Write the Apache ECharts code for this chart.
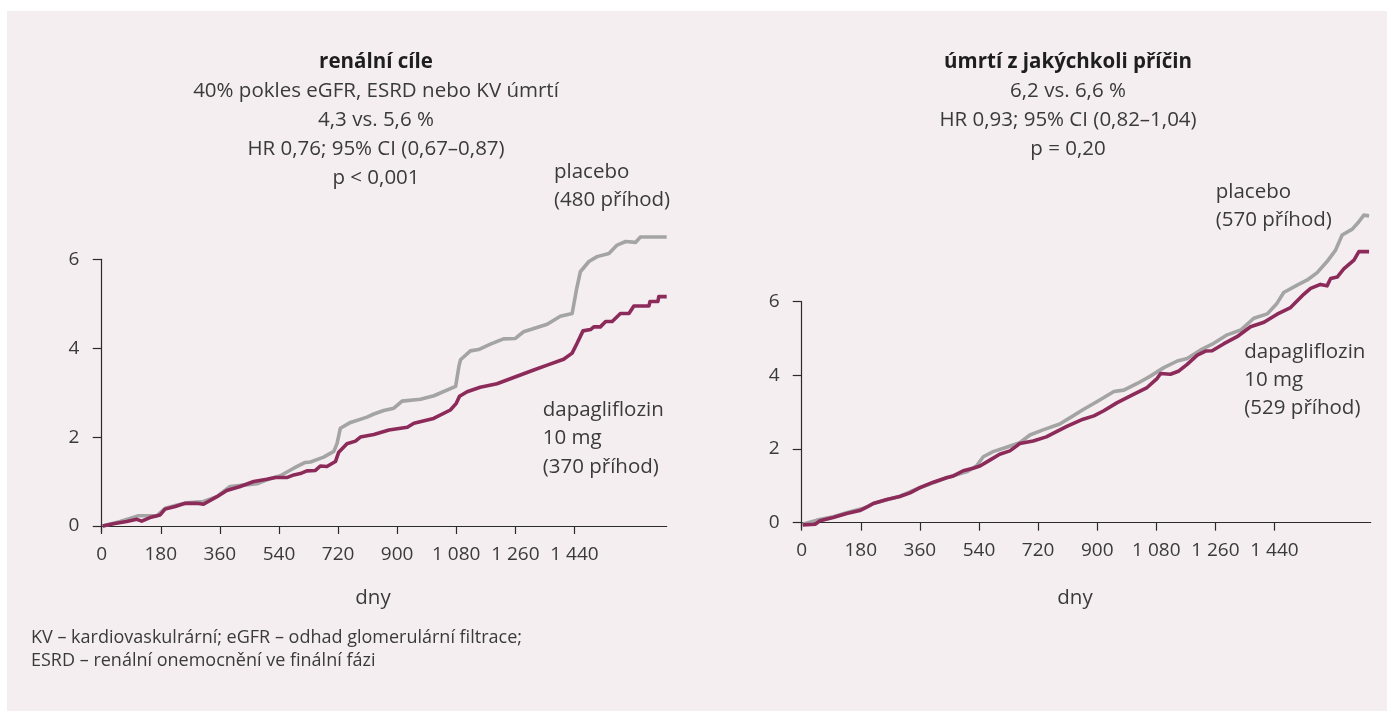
<!DOCTYPE html>
<html><head><meta charset="utf-8">
<script src="https://cdn.jsdelivr.net/npm/echarts@6/dist/echarts.min.js"></script>
<style>html,body{margin:0;padding:0;background:#fff;}#c{width:1387px;height:711px;}</style>
</head><body><div id="c"></div>
<script>
// ---- data ----
const xTicks = [0, 180, 360, 540, 720, 900, 1080, 1260, 1440];
const yTicks = [0, 2, 4, 6];

// renal endpoint (days, cumulative %)
const renalDapa = [[3,0],[36,0.05],[76,0.1],[107,0.15],[122,0.11],[147,0.19],[178,0.25],[193,0.38],[224,0.44],[254,0.51],[290,0.51],[310,0.49],[351,0.66],[381,0.8],[422,0.89],[463,1.0],[503,1.05],[529,1.09],[564,1.09],[585,1.15],[605,1.18],[625,1.24],[651,1.25],[666,1.35],[686,1.34],[712,1.45],[722,1.66],[747,1.85],[773,1.91],[788,2.0],[829,2.06],[875,2.16],[931,2.22],[951,2.31],[1011,2.42],[1062,2.61],[1080,2.76],[1090,2.92],[1113,3.02],[1153,3.12],[1204,3.2],[1265,3.37],[1316,3.51],[1357,3.62],[1407,3.75],[1433,3.89],[1448,4.11],[1466,4.39],[1489,4.42],[1499,4.48],[1519,4.48],[1535,4.6],[1555,4.6],[1580,4.78],[1606,4.78],[1621,4.95],[1667,4.95],[1670,5.05],[1694,5.05],[1697,5.16],[1721,5.16]];
const renalPlacebo = [[3,0],[56,0.1],[86,0.17],[112,0.23],[168,0.23],[193,0.4],[224,0.46],[259,0.52],[310,0.55],[351,0.66],[391,0.89],[432,0.92],[473,0.95],[503,1.04],[544,1.13],[585,1.3],[620,1.43],[636,1.44],[676,1.55],[707,1.68],[717,1.86],[727,2.2],[758,2.33],[808,2.45],[829,2.52],[859,2.6],[890,2.65],[915,2.81],[971,2.85],[1012,2.93],[1078,3.14],[1088,3.59],[1093,3.74],[1123,3.94],[1148,3.97],[1184,4.09],[1224,4.21],[1260,4.22],[1285,4.37],[1357,4.54],[1397,4.72],[1433,4.78],[1446,5.31],[1458,5.72],[1484,5.95],[1509,6.06],[1545,6.13],[1570,6.32],[1596,6.4],[1626,6.38],[1641,6.5],[1721,6.5]];

// all-cause death (days, cumulative %)
const deathDapa = [[3,-0.06],[41,-0.04],[56,0.05],[96,0.14],[137,0.25],[177,0.33],[198,0.42],[218,0.52],[259,0.63],[299,0.71],[330,0.81],[360,0.95],[401,1.1],[441,1.22],[462,1.27],[492,1.41],[522,1.48],[543,1.54],[573,1.7],[603,1.86],[634,1.95],[654,2.08],[664,2.15],[705,2.22],[745,2.33],[776,2.47],[809,2.62],[857,2.81],[890,2.9],[920,3.04],[961,3.26],[1012,3.49],[1052,3.67],[1083,3.92],[1093,4.05],[1123,4.03],[1149,4.12],[1174,4.3],[1205,4.55],[1230,4.66],[1250,4.67],[1286,4.86],[1326,5.05],[1367,5.32],[1408,5.44],[1448,5.66],[1489,5.84],[1529,6.2],[1550,6.36],[1580,6.47],[1600,6.43],[1611,6.63],[1631,6.67],[1651,6.89],[1682,7.13],[1697,7.36],[1728,7.36]];
const deathPlacebo = [[3,-0.04],[46,0.07],[96,0.16],[147,0.3],[188,0.39],[218,0.52],[299,0.72],[360,0.95],[441,1.22],[502,1.38],[532,1.54],[553,1.79],[583,1.93],[624,2.05],[664,2.17],[695,2.38],[735,2.52],[786,2.68],[819,2.86],[859,3.08],[900,3.29],[951,3.56],[981,3.6],[1022,3.78],[1062,3.98],[1103,4.21],[1144,4.39],[1174,4.46],[1215,4.69],[1255,4.87],[1296,5.1],[1337,5.23],[1377,5.55],[1418,5.67],[1448,5.96],[1468,6.25],[1509,6.45],[1540,6.59],[1570,6.79],[1600,7.09],[1626,7.4],[1646,7.81],[1677,7.97],[1697,8.17],[1712,8.35],[1728,8.33]];

const leftTitle = ['renální cíle', '40% pokles eGFR, ESRD nebo KV úmrtí', '4,3 vs. 5,6 %', 'HR 0,76; 95% CI (0,67–0,87)', 'p < 0,001'];
const rightTitle = ['úmrtí z jakýchkoli příčin', '6,2 vs. 6,6 %', 'HR 0,93; 95% CI (0,82–1,04)', 'p = 0,20'];
const footnote = ['KV – kardiovaskulrární; eGFR – odhad glomerulární filtrace;', 'ESRD – renální onemocnění ve finální fázi'];
const yTitle = 'kumulované případy (%)';
const xTitle = 'dny';

// ---- style ----
const FONT = 'Open Sans';
const TXT = '#3a3a3a';
const AX = '#2b2b2b';
const GRAY = '#a4a4a4';
const PURPLE = '#8c2a5a';
const FS = 19;     // tick labels
const FT = 20.5;   // other text

function fmt(v){ return v >= 1000 ? String(v).replace(/(\d)(\d{3})$/, '$1 $2') : String(v); }

function xAxis(idx, min, max){
  return {type:'value', gridIndex:idx, min:min, max:max,
    axisLine:{show:true, lineStyle:{color:AX, width:1.2}},
    axisTick:{show:true, length:8, lineStyle:{color:AX, width:1.2}, customValues:xTicks},
    axisLabel:{color:TXT, fontFamily:FONT, fontSize:FS, margin:13, customValues:xTicks, formatter:fmt},
    splitLine:{show:false}};
}
function yAxis(idx, min, max){
  return {type:'value', gridIndex:idx, min:min, max:max,
    axisLine:{show:true, lineStyle:{color:AX, width:1.2}},
    axisTick:{show:true, length:9, lineStyle:{color:AX, width:1.2}, customValues:yTicks},
    axisLabel:{color:TXT, fontFamily:FONT, fontSize:FS, margin:18, customValues:yTicks},
    splitLine:{show:false}};
}
function line(xi, data, color, z){
  return {type:'line', xAxisIndex:xi, yAxisIndex:xi, data:data, showSymbol:false, symbol:'none',
    clip:false, z:z, lineStyle:{color:color, width:3.6, join:'round'}, silent:true, animation:false};
}
function txt(x, y, s, opt){
  return {type:'text', x:x, y:y, silent:true, style:Object.assign({text:s, fill:TXT, font: FT+'px "'+FONT+'"', textAlign:'left', textVerticalAlign:'middle'}, opt||{})};
}

const graphics = [
  {type:'rect', shape:{x:7, y:11, width:1380, height:700}, style:{fill:'#f4eef0'}, z:-10, silent:true}
];
const lineY = [61.7, 91.2, 120, 149.5, 178];
leftTitle.forEach((s,i)=> graphics.push(txt(376, lineY[i], s, {textAlign:'center', font:(i===0?'bold ':'')+FT+'px "'+FONT+'"', fill:i===0?'#1e1e1e':TXT})));
rightTitle.forEach((s,i)=> graphics.push(txt(1068, lineY[i], s, {textAlign:'center', font:(i===0?'bold ':'')+FT+'px "'+FONT+'"', fill:i===0?'#1e1e1e':TXT})));
graphics.push(txt(554, 171.7, 'placebo'), txt(554, 200, '(480 příhod)'));
graphics.push(txt(542.7, 410, 'dapagliflozin'), txt(542.7, 438, '10 mg'), txt(542.7, 466.7, '(370 příhod)'));
graphics.push(txt(1215.7, 191.7, 'placebo'), txt(1215.7, 220, '(570 příhod)'));
graphics.push(txt(1244.3, 351.7, 'dapagliflozin'), txt(1244.3, 380, '10 mg'), txt(1244.3, 408, '(529 příhod)'));
graphics.push(txt(373, 598, xTitle, {textAlign:'center'}), txt(1075, 598, xTitle, {textAlign:'center'}));
graphics.push(Object.assign(txt(43.5, 388, yTitle, {textAlign:'center'}), {rotation:Math.PI/2, originX:43.5, originY:388}));
graphics.push(Object.assign(txt(733, 374, yTitle, {textAlign:'center'}), {rotation:Math.PI/2, originX:733, originY:374}));
graphics.push(txt(31, 638, footnote[0], {font:'18px "'+FONT+'"'}), txt(31, 661, footnote[1], {font:'18px "'+FONT+'"'}));

const chart = echarts.init(document.getElementById('c'), null, {renderer:'canvas'});
chart.setOption({
  animation:false,
  backgroundColor:'transparent',
  grid:[
    {left:97.3, top:259.3, width:569.4, height:272.4},
    {left:797.7, top:301.7, width:573, height:226.6}
  ],
  xAxis:[xAxis(0, -13.4, 1721), xAxis(1, -12.2, 1733)],
  yAxis:[yAxis(0, -0.128, 6), yAxis(1, -0.152, 6)],
  series:[
    line(0, renalPlacebo, GRAY, 2), line(0, renalDapa, PURPLE, 3),
    line(1, deathPlacebo, GRAY, 2), line(1, deathDapa, PURPLE, 3)
  ],
  graphic:graphics
});
</script></body></html>
